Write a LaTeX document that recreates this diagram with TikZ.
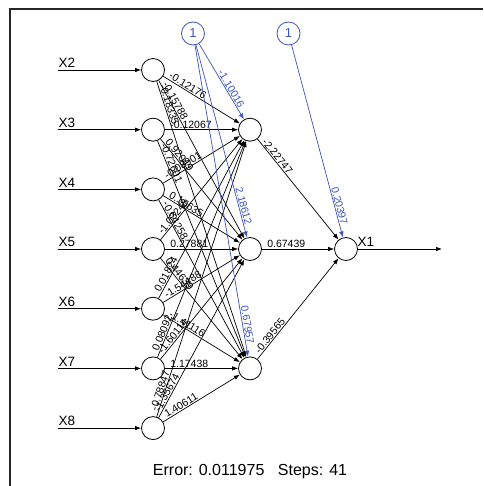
\documentclass[tikz,border=0pt]{standalone}
\usepackage{fontspec}
\setmainfont{Liberation Sans}
\usetikzlibrary{arrows.meta,calc}
\definecolor{biasblue}{RGB}{58,84,186}
\begin{document}
\begin{tikzpicture}[x=1pt,y=-1pt,
  neuron/.style={circle,draw,line width=0.8pt,minimum size=23pt,inner sep=0pt},
  biasnode/.style={neuron,draw=biasblue,text=biasblue,font=\fontsize{13}{13}\selectfont},
  conn/.style={-{Latex[length=6pt,width=4.5pt]},line width=0.7pt},
  bconn/.style={conn,draw=biasblue},
  wlab/.style={sloped,pos=0,anchor=south west,inner xsep=5pt,inner ysep=0.8pt,font=\fontsize{10.5}{10.5}\selectfont},
  blab/.style={sloped,pos=1,anchor=south east,inner xsep=12pt,inner ysep=0.8pt,font=\fontsize{10.5}{10.5}\selectfont,text=biasblue},
  vlab/.style={font=\fontsize{13.5}{13.5}\selectfont,anchor=south west,inner sep=0.5pt}
]
\useasboundingbox (0,0) rectangle (483,486);
\draw[line width=1.5pt,black!85] (10,486) -- (10,9) -- (483,9);

% input nodes
\foreach \n/\y in {2/70,3/129.7,4/189.4,5/249,6/308.7,7/368.4,8/428.1}{
  \node[neuron] (i\n) at (153,\y) {};
  \coordinate (s\n) at (58,\y);
  \draw[conn] (s\n) -- (i\n);
  \node[vlab] (l\n) at (58,\y-1.5) {X\n};
}
% hidden nodes
\node[neuron] (h1) at (250,129.7) {};
\node[neuron] (h2) at (250,249) {};
\node[neuron] (h3) at (250,368.4) {};
% output
\node[neuron] (o) at (346,249) {};
\coordinate (e) at (442,249);
\draw[conn] (o) -- (e);
\node[vlab] (l1) at (357,247.5) {X1};
% bias
\node[biasnode] (b1) at (193,33.5) {1};
\node[biasnode] (b2) at (288.5,33.5) {1};

% input -> hidden
\foreach \s/\t/\w in {
  i2/h1/-0.12176, i2/h2/-0.15788, i2/h3/-0.18335,
  i3/h1/-0.12067, i3/h2/0.92049, i3/h3/-0.72601,
  i4/h1/-0.08901, i4/h2/0.15635, i4/h3/-0.64258,
  i5/h1/-1.03248, i5/h2/0.27881, i5/h3/0.44639,
  i6/h1/0.01824, i6/h2/-1.54488, i6/h3/-1.41116,
  i7/h1/0.08092, i7/h2/-1.60114, i7/h3/1.17438,
  i8/h1/-0.78847, i8/h2/-1.35674, i8/h3/1.40611}{
  \draw[conn] (\s) -- (\t) node[wlab] {\w};
}
% hidden -> output
\draw[conn] (h1) -- (o) node[wlab] {-2.22747};
\draw[conn] (h2) -- (o) node[wlab] {0.67439};
\draw[conn] (h3) -- (o) node[wlab] {-0.39565};
% bias edges
\draw[bconn] (b1) -- (h1) node[blab] {-1.10016};
\draw[bconn] (b1) -- (h2) node[blab] {2.18612};
\draw[bconn] (b1) -- (h3) node[blab] {0.67957};
\draw[bconn] (b2) -- (o) node[blab] {0.20397};

\node[font=\fontsize{16}{16}\selectfont] (err) at (250,472) {Error: 0.011975\hspace{0.85em}Steps: 41};
\end{tikzpicture}
\end{document}
